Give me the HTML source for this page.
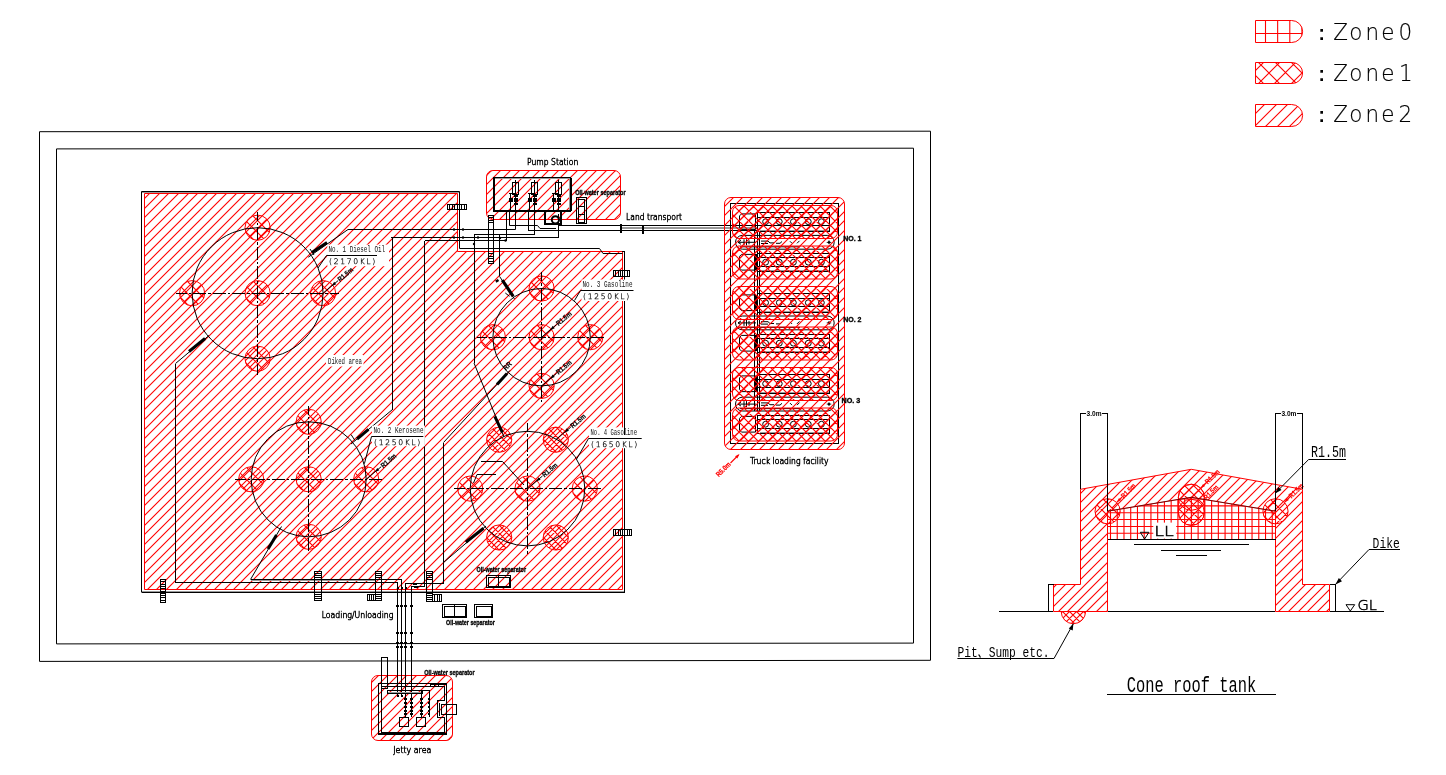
<!DOCTYPE html>
<html lang="en">
<head>
<meta charset="utf-8">
<title>Hazardous area classification - oil terminal layout</title>
<style>
html,body{margin:0;padding:0;background:#fff;width:1446px;height:775px;overflow:hidden}
svg{display:block;position:absolute;left:0;top:0;will-change:transform}
.h{fill:none;stroke:#ff0000}
.ro{fill:none;stroke:#ff0000}
.k{fill:none;stroke:#000;stroke-width:1}
.k2{fill:none;stroke:#000;stroke-width:2}
.kc{fill:none;stroke:#000;stroke-width:1;shape-rendering:crispEdges}
.kc2{fill:none;stroke:#000;stroke-width:2;shape-rendering:crispEdges}
.g{fill:none;stroke:#999;stroke-width:1;shape-rendering:crispEdges}
.cl{fill:none;stroke:#000;stroke-width:1;stroke-dasharray:13 2 2.5 2;shape-rendering:crispEdges}
.f{fill:#000;stroke:none}
.w{fill:#fff;stroke:none}
text{white-space:pre}
.cad{font-family:"DejaVu Sans Light","Liberation Sans",sans-serif;font-size:9px;fill:#000;stroke:#000;stroke-width:.55}
.zone{font-family:"DejaVu Sans Light","Liberation Sans",sans-serif;font-size:22.6px;fill:#000;stroke:#000;stroke-width:.2}
.zone2{font-family:"DejaVu Sans Light","Liberation Sans",sans-serif;font-size:14.2px;fill:#000;stroke:#000;stroke-width:.5}
.tiny{font-family:"Liberation Sans",sans-serif;font-weight:700;font-size:7px;fill:#000;stroke:#000;stroke-width:.3}
.dim{font-family:"Liberation Sans",sans-serif;font-weight:700;font-size:6.5px;fill:#000}
.mono{font-family:"Liberation Mono","IPAGothic",monospace}
.lab{font-family:"Liberation Mono","IPAGothic",monospace;fill:#111;font-size:9.5px}
.lab2{font-family:"DejaVu Sans Light","Liberation Sans",sans-serif;fill:#111;font-size:7.6px;stroke:#111;stroke-width:.25}
.rt{font-family:"Liberation Sans",sans-serif;font-weight:700;font-size:7px;fill:#000;stroke:#000;stroke-width:.2}
.rr{font-family:"Liberation Sans",sans-serif;font-weight:700;font-size:7px;fill:#ff0000;stroke:#f00;stroke-width:.2}
.colon{font-family:"Liberation Sans",sans-serif;font-weight:700;font-size:20px;fill:#000;stroke:none}

</style>
</head>
<body>
<svg width="1446" height="775" viewBox="0 0 1446 775" role="img" aria-label="Hazardous area classification drawing"><defs><clipPath id="c1"><polygon points="144.50,193.50 457.50,193.50 457.50,251.50 622.50,251.50 622.50,589.50 144.50,589.50"/></clipPath><clipPath id="c2"><circle cx="257.60" cy="293.20" r="12.60"/></clipPath><clipPath id="c3"><circle cx="323.10" cy="293.20" r="12.60"/></clipPath><clipPath id="c4"><circle cx="257.60" cy="227.70" r="12.60"/></clipPath><clipPath id="c5"><circle cx="192.10" cy="293.20" r="12.60"/></clipPath><clipPath id="c6"><circle cx="257.60" cy="358.70" r="12.60"/></clipPath><clipPath id="c7"><circle cx="308.70" cy="479.30" r="12.60"/></clipPath><clipPath id="c8"><circle cx="366.20" cy="479.30" r="12.60"/></clipPath><clipPath id="c9"><circle cx="308.70" cy="421.80" r="12.60"/></clipPath><clipPath id="c10"><circle cx="251.20" cy="479.30" r="12.60"/></clipPath><clipPath id="c11"><circle cx="308.70" cy="536.80" r="12.60"/></clipPath><clipPath id="c12"><circle cx="541.60" cy="337.20" r="12.60"/></clipPath><clipPath id="c13"><circle cx="590.30" cy="337.20" r="12.60"/></clipPath><clipPath id="c14"><circle cx="541.60" cy="288.50" r="12.60"/></clipPath><clipPath id="c15"><circle cx="492.90" cy="337.20" r="12.60"/></clipPath><clipPath id="c16"><circle cx="541.60" cy="385.90" r="12.60"/></clipPath><clipPath id="c17"><circle cx="527.50" cy="488.60" r="12.60"/></clipPath><clipPath id="c18"><circle cx="584.80" cy="488.60" r="12.60"/></clipPath><clipPath id="c19"><circle cx="470.20" cy="488.60" r="12.60"/></clipPath><clipPath id="c20"><circle cx="499.20" cy="439.70" r="12.60"/></clipPath><clipPath id="c21"><circle cx="499.20" cy="537.50" r="12.60"/></clipPath><clipPath id="c22"><circle cx="555.80" cy="439.70" r="12.60"/></clipPath><clipPath id="c23"><circle cx="555.80" cy="537.50" r="12.60"/></clipPath><clipPath id="c24"><rect x="486.50" y="170.50" width="134.00" height="49.00" rx="6.5" ry="6.5"/></clipPath><clipPath id="c25"><rect x="724.50" y="197.50" width="120.00" height="252.00" rx="6.5" ry="6.5"/></clipPath><clipPath id="c26"><rect x="732.50" y="205.50" width="105.00" height="33.00" rx="6.5" ry="6.5"/></clipPath><clipPath id="c27"><rect x="732.50" y="246.00" width="105.00" height="33.00" rx="6.5" ry="6.5"/></clipPath><clipPath id="c28"><rect x="732.50" y="286.50" width="105.00" height="33.00" rx="6.5" ry="6.5"/></clipPath><clipPath id="c29"><rect x="732.50" y="327.00" width="105.00" height="33.00" rx="6.5" ry="6.5"/></clipPath><clipPath id="c30"><rect x="732.50" y="367.50" width="105.00" height="33.00" rx="6.5" ry="6.5"/></clipPath><clipPath id="c31"><rect x="732.50" y="408.00" width="105.00" height="33.00" rx="6.5" ry="6.5"/></clipPath><clipPath id="c32"><rect x="371.50" y="675.50" width="81.00" height="65.00" rx="6.5" ry="6.5"/></clipPath><clipPath id="c33"><polygon points="1053.50,584.50 1080.50,584.50 1080.50,489.30 1191.30,469.30 1302.50,489.30 1302.50,584.50 1329.50,584.50 1329.50,611.50 1275.50,611.50 1275.50,511.20 1191.30,497.30 1107.50,511.20 1107.50,611.50 1053.50,611.50"/></clipPath><clipPath id="c34"><polygon points="1107.50,511.20 1191.30,497.30 1275.50,511.20 1275.50,539.50 1107.50,539.50"/></clipPath><clipPath id="c35"><circle cx="1107.60" cy="511.30" r="12.60"/></clipPath><clipPath id="c36"><circle cx="1275.50" cy="511.30" r="12.60"/></clipPath><clipPath id="c37"><rect x="1178.40" y="484.20" width="26.00" height="41.20" rx="13" ry="13"/></clipPath><clipPath id="c38"><path d="M1061.2 611.5A12.2 12.2 0 0 0 1085.6 611.5Z"/></clipPath><clipPath id="c39"><path d="M1255.5 20.5H1291.6A11.0 11.0 0 0 1 1291.6 42.5H1255.5Z"/></clipPath><clipPath id="c40"><path d="M1255.5 62.5H1292.1A10.5 10.5 0 0 1 1292.1 83.5H1255.5Z"/></clipPath><clipPath id="c41"><path d="M1255.5 104.5H1291.6A11.0 11.0 0 0 1 1291.6 126.5H1255.5Z"/></clipPath></defs><rect class="w" x="0" y="0" width="1446" height="775"/>
<g id="frame">
<path class="k" d="M39.5 131.7L930.5 131.2V660.3L39.5 661.4Z"/>
<path class="k" d="M56.5 148.9L913.5 148.2V643.1L56.5 643.9Z"/>
</g>
<g id="dike-zone2">
<path clip-path="url(#c1)" d="M-248.00 591.00L151.00 192.00M-238.00 591.00L161.00 192.00M-229.00 591.00L170.00 192.00M-219.00 591.00L180.00 192.00M-209.00 591.00L190.00 192.00M-200.00 591.00L199.00 192.00M-190.00 591.00L209.00 192.00M-181.00 591.00L218.00 192.00M-171.00 591.00L228.00 192.00M-161.00 591.00L238.00 192.00M-152.00 591.00L247.00 192.00M-142.00 591.00L257.00 192.00M-133.00 591.00L266.00 192.00M-123.00 591.00L276.00 192.00M-113.00 591.00L286.00 192.00M-104.00 591.00L295.00 192.00M-94.00 591.00L305.00 192.00M-85.00 591.00L314.00 192.00M-75.00 591.00L324.00 192.00M-65.00 591.00L334.00 192.00M-56.00 591.00L343.00 192.00M-46.00 591.00L353.00 192.00M-37.00 591.00L362.00 192.00M-27.00 591.00L372.00 192.00M-17.00 591.00L382.00 192.00M-8.00 591.00L391.00 192.00M2.00 591.00L401.00 192.00M11.00 591.00L410.00 192.00M21.00 591.00L420.00 192.00M31.00 591.00L430.00 192.00M40.00 591.00L439.00 192.00M50.00 591.00L449.00 192.00M59.00 591.00L458.00 192.00M69.00 591.00L468.00 192.00M79.00 591.00L478.00 192.00M88.00 591.00L487.00 192.00M98.00 591.00L497.00 192.00M107.00 591.00L506.00 192.00M117.00 591.00L516.00 192.00M127.00 591.00L526.00 192.00M136.00 591.00L535.00 192.00M146.00 591.00L545.00 192.00M155.00 591.00L554.00 192.00M165.00 591.00L564.00 192.00M175.00 591.00L574.00 192.00M184.00 591.00L583.00 192.00M194.00 591.00L593.00 192.00M203.00 591.00L602.00 192.00M213.00 591.00L612.00 192.00M223.00 591.00L622.00 192.00M232.00 591.00L631.00 192.00M242.00 591.00L641.00 192.00M251.00 591.00L650.00 192.00M261.00 591.00L660.00 192.00M271.00 591.00L670.00 192.00M280.00 591.00L679.00 192.00M290.00 591.00L689.00 192.00M299.00 591.00L698.00 192.00M309.00 591.00L708.00 192.00M319.00 591.00L718.00 192.00M328.00 591.00L727.00 192.00M338.00 591.00L737.00 192.00M347.00 591.00L746.00 192.00M357.00 591.00L756.00 192.00M367.00 591.00L766.00 192.00M376.00 591.00L775.00 192.00M386.00 591.00L785.00 192.00M395.00 591.00L794.00 192.00M405.00 591.00L804.00 192.00M415.00 591.00L814.00 192.00M424.00 591.00L823.00 192.00M434.00 591.00L833.00 192.00M443.00 591.00L842.00 192.00M453.00 591.00L852.00 192.00M463.00 591.00L862.00 192.00M472.00 591.00L871.00 192.00M482.00 591.00L881.00 192.00M491.00 591.00L890.00 192.00M501.00 591.00L900.00 192.00M511.00 591.00L910.00 192.00M520.00 591.00L919.00 192.00M530.00 591.00L929.00 192.00M539.00 591.00L938.00 192.00M549.00 591.00L948.00 192.00M559.00 591.00L958.00 192.00M568.00 591.00L967.00 192.00M578.00 591.00L977.00 192.00M587.00 591.00L986.00 192.00M597.00 591.00L996.00 192.00M607.00 591.00L1006.00 192.00M616.00 591.00L1015.00 192.00" class="h" stroke-width="1.1"/>
<polygon class="ro" stroke-width="1.0" points="144.50,193.50 457.50,193.50 457.50,251.50 622.50,251.50 622.50,589.50 144.50,589.50"/>
</g>
<g id="t1">
<path clip-path="url(#c2)" d="M226.60 278.60L255.80 307.80M238.60 278.60L267.80 307.80M250.60 278.60L279.80 307.80M261.60 278.60L290.80 307.80M220.20 307.80L249.40 278.60M232.20 307.80L261.40 278.60M244.20 307.80L273.40 278.60M256.20 307.80L285.40 278.60M267.20 307.80L296.40 278.60" class="h" stroke-width="1.1"/>
<circle class="ro" stroke-width="1.0" cx="257.60" cy="293.20" r="12.60"/>
<path clip-path="url(#c3)" d="M292.60 278.60L321.80 307.80M303.60 278.60L332.80 307.80M315.60 278.60L344.80 307.80M327.60 278.60L356.80 307.80M286.20 307.80L315.40 278.60M298.20 307.80L327.40 278.60M309.20 307.80L338.40 278.60M321.20 307.80L350.40 278.60M333.20 307.80L362.40 278.60" class="h" stroke-width="1.1"/>
<circle class="ro" stroke-width="1.0" cx="323.10" cy="293.20" r="12.60"/>
<path clip-path="url(#c4)" d="M227.10 213.10L256.30 242.30M238.10 213.10L267.30 242.30M250.10 213.10L279.30 242.30M262.10 213.10L291.30 242.30M220.70 242.30L249.90 213.10M232.70 242.30L261.90 213.10M243.70 242.30L272.90 213.10M255.70 242.30L284.90 213.10M267.70 242.30L296.90 213.10" class="h" stroke-width="1.1"/>
<circle class="ro" stroke-width="1.0" cx="257.60" cy="227.70" r="12.60"/>
<path clip-path="url(#c5)" d="M161.60 278.60L190.80 307.80M172.60 278.60L201.80 307.80M184.60 278.60L213.80 307.80M196.60 278.60L225.80 307.80M155.20 307.80L184.40 278.60M167.20 307.80L196.40 278.60M178.20 307.80L207.40 278.60M190.20 307.80L219.40 278.60M202.20 307.80L231.40 278.60" class="h" stroke-width="1.1"/>
<circle class="ro" stroke-width="1.0" cx="192.10" cy="293.20" r="12.60"/>
<path clip-path="url(#c6)" d="M227.10 344.10L256.30 373.30M238.10 344.10L267.30 373.30M250.10 344.10L279.30 373.30M262.10 344.10L291.30 373.30M220.70 373.30L249.90 344.10M232.70 373.30L261.90 344.10M243.70 373.30L272.90 344.10M255.70 373.30L284.90 344.10M267.70 373.30L296.90 344.10" class="h" stroke-width="1.1"/>
<circle class="ro" stroke-width="1.0" cx="257.60" cy="358.70" r="12.60"/>
<circle class="k" cx="257.6" cy="293.2" r="65.5"/>
<path class="cl" stroke-dashoffset="2.5" d="M176.0 293.5H339.2"/>
<path class="cl" stroke-dashoffset="4" d="M257.5 211.6V374.8"/>
</g>
<g id="t2">
<path clip-path="url(#c7)" d="M277.70 464.70L306.90 493.90M289.70 464.70L318.90 493.90M301.70 464.70L330.90 493.90M312.70 464.70L341.90 493.90M272.10 493.90L301.30 464.70M283.10 493.90L312.30 464.70M295.10 493.90L324.30 464.70M307.10 493.90L336.30 464.70M318.10 493.90L347.30 464.70" class="h" stroke-width="1.1"/>
<circle class="ro" stroke-width="1.0" cx="308.70" cy="479.30" r="12.60"/>
<path clip-path="url(#c8)" d="M335.70 464.70L364.90 493.90M346.70 464.70L375.90 493.90M358.70 464.70L387.90 493.90M370.70 464.70L399.90 493.90M329.10 493.90L358.30 464.70M341.10 493.90L370.30 464.70M352.10 493.90L381.30 464.70M364.10 493.90L393.30 464.70M376.10 493.90L405.30 464.70" class="h" stroke-width="1.1"/>
<circle class="ro" stroke-width="1.0" cx="366.20" cy="479.30" r="12.60"/>
<path clip-path="url(#c9)" d="M278.20 407.20L307.40 436.40M289.20 407.20L318.40 436.40M301.20 407.20L330.40 436.40M313.20 407.20L342.40 436.40M271.60 436.40L300.80 407.20M283.60 436.40L312.80 407.20M295.60 436.40L324.80 407.20M306.60 436.40L335.80 407.20M318.60 436.40L347.80 407.20" class="h" stroke-width="1.1"/>
<circle class="ro" stroke-width="1.0" cx="308.70" cy="421.80" r="12.60"/>
<path clip-path="url(#c10)" d="M220.70 464.70L249.90 493.90M231.70 464.70L260.90 493.90M243.70 464.70L272.90 493.90M255.70 464.70L284.90 493.90M214.10 493.90L243.30 464.70M226.10 493.90L255.30 464.70M238.10 493.90L267.30 464.70M249.10 493.90L278.30 464.70M261.10 493.90L290.30 464.70" class="h" stroke-width="1.1"/>
<circle class="ro" stroke-width="1.0" cx="251.20" cy="479.30" r="12.60"/>
<path clip-path="url(#c11)" d="M278.20 522.20L307.40 551.40M289.20 522.20L318.40 551.40M301.20 522.20L330.40 551.40M313.20 522.20L342.40 551.40M271.60 551.40L300.80 522.20M283.60 551.40L312.80 522.20M294.60 551.40L323.80 522.20M306.60 551.40L335.80 522.20M318.60 551.40L347.80 522.20" class="h" stroke-width="1.1"/>
<circle class="ro" stroke-width="1.0" cx="308.70" cy="536.80" r="12.60"/>
<circle class="k" cx="308.7" cy="479.3" r="57.5"/>
<path class="cl" stroke-dashoffset="2.5" d="M235.1 479.5H382.3"/>
<path class="cl" stroke-dashoffset="4" d="M308.5 405.7V552.9"/>
</g>
<g id="t3">
<path clip-path="url(#c12)" d="M510.60 322.60L539.80 351.80M522.60 322.60L551.80 351.80M534.60 322.60L563.80 351.80M545.60 322.60L574.80 351.80M504.20 351.80L533.40 322.60M516.20 351.80L545.40 322.60M528.20 351.80L557.40 322.60M540.20 351.80L569.40 322.60M551.20 351.80L580.40 322.60" class="h" stroke-width="1.1"/>
<circle class="ro" stroke-width="1.0" cx="541.60" cy="337.20" r="12.60"/>
<path clip-path="url(#c13)" d="M559.60 322.60L588.80 351.80M571.60 322.60L600.80 351.80M582.60 322.60L611.80 351.80M594.60 322.60L623.80 351.80M553.20 351.80L582.40 322.60M565.20 351.80L594.40 322.60M576.20 351.80L605.40 322.60M588.20 351.80L617.40 322.60M600.20 351.80L629.40 322.60" class="h" stroke-width="1.1"/>
<circle class="ro" stroke-width="1.0" cx="590.30" cy="337.20" r="12.60"/>
<path clip-path="url(#c14)" d="M510.90 273.90L540.10 303.10M522.90 273.90L552.10 303.10M533.90 273.90L563.10 303.10M545.90 273.90L575.10 303.10M504.90 303.10L534.10 273.90M515.90 303.10L545.10 273.90M527.90 303.10L557.10 273.90M539.90 303.10L569.10 273.90M550.90 303.10L580.10 273.90" class="h" stroke-width="1.1"/>
<circle class="ro" stroke-width="1.0" cx="541.60" cy="288.50" r="12.60"/>
<path clip-path="url(#c15)" d="M462.60 322.60L491.80 351.80M473.60 322.60L502.80 351.80M485.60 322.60L514.80 351.80M497.60 322.60L526.80 351.80M456.20 351.80L485.40 322.60M467.20 351.80L496.40 322.60M479.20 351.80L508.40 322.60M491.20 351.80L520.40 322.60M502.20 351.80L531.40 322.60" class="h" stroke-width="1.1"/>
<circle class="ro" stroke-width="1.0" cx="492.90" cy="337.20" r="12.60"/>
<path clip-path="url(#c16)" d="M511.30 371.30L540.50 400.50M522.30 371.30L551.50 400.50M534.30 371.30L563.50 400.50M546.30 371.30L575.50 400.50M504.50 400.50L533.70 371.30M516.50 400.50L545.70 371.30M527.50 400.50L556.70 371.30M539.50 400.50L568.70 371.30M551.50 400.50L580.70 371.30" class="h" stroke-width="1.1"/>
<circle class="ro" stroke-width="1.0" cx="541.60" cy="385.90" r="12.60"/>
<circle class="k" cx="541.6" cy="337.2" r="48.7"/>
<path class="cl" stroke-dashoffset="2.5" d="M476.8 337.5H606.4"/>
<path class="cl" stroke-dashoffset="4" d="M541.5 272.4V402.0"/>
</g>
<g id="t4">
<path clip-path="url(#c17)" d="M497.00 474.00L526.20 503.20M508.00 474.00L537.20 503.20M520.00 474.00L549.20 503.20M532.00 474.00L561.20 503.20M490.80 503.20L520.00 474.00M501.80 503.20L531.00 474.00M513.80 503.20L543.00 474.00M525.80 503.20L555.00 474.00M536.80 503.20L566.00 474.00" class="h" stroke-width="1.1"/>
<circle class="ro" stroke-width="1.0" cx="527.50" cy="488.60" r="12.60"/>
<path clip-path="url(#c18)" d="M554.00 474.00L583.20 503.20M566.00 474.00L595.20 503.20M577.00 474.00L606.20 503.20M589.00 474.00L618.20 503.20M547.80 503.20L577.00 474.00M559.80 503.20L589.00 474.00M570.80 503.20L600.00 474.00M582.80 503.20L612.00 474.00M594.80 503.20L624.00 474.00" class="h" stroke-width="1.1"/>
<circle class="ro" stroke-width="1.0" cx="584.80" cy="488.60" r="12.60"/>
<path clip-path="url(#c19)" d="M439.00 474.00L468.20 503.20M451.00 474.00L480.20 503.20M463.00 474.00L492.20 503.20M474.00 474.00L503.20 503.20M432.80 503.20L462.00 474.00M444.80 503.20L474.00 474.00M456.80 503.20L486.00 474.00M468.80 503.20L498.00 474.00M479.80 503.20L509.00 474.00" class="h" stroke-width="1.1"/>
<circle class="ro" stroke-width="1.0" cx="470.20" cy="488.60" r="12.60"/>
<path clip-path="url(#c20)" d="M464.10 425.10L493.30 454.30M472.10 425.10L501.30 454.30M480.10 425.10L509.30 454.30M489.10 425.10L518.30 454.30M497.10 425.10L526.30 454.30M505.10 425.10L534.30 454.30M459.70 454.30L488.90 425.10M469.70 454.30L498.90 425.10M479.70 454.30L508.90 425.10M488.70 454.30L517.90 425.10M498.70 454.30L527.90 425.10M507.70 454.30L536.90 425.10" class="h" stroke-width="1.1"/>
<circle class="ro" stroke-width="1.0" cx="499.20" cy="439.70" r="12.60"/>
<path clip-path="url(#c21)" d="M463.90 522.90L493.10 552.10M471.90 522.90L501.10 552.10M480.90 522.90L510.10 552.10M488.90 522.90L518.10 552.10M496.90 522.90L526.10 552.10M505.90 522.90L535.10 552.10M457.90 552.10L487.10 522.90M467.90 552.10L497.10 522.90M477.90 552.10L507.10 522.90M486.90 552.10L516.10 522.90M496.90 552.10L526.10 522.90M505.90 552.10L535.10 522.90" class="h" stroke-width="1.1"/>
<circle class="ro" stroke-width="1.0" cx="499.20" cy="537.50" r="12.60"/>
<path clip-path="url(#c22)" d="M520.10 425.10L549.30 454.30M529.10 425.10L558.30 454.30M537.10 425.10L566.30 454.30M545.10 425.10L574.30 454.30M554.10 425.10L583.30 454.30M562.10 425.10L591.30 454.30M517.70 454.30L546.90 425.10M527.70 454.30L556.90 425.10M536.70 454.30L565.90 425.10M546.70 454.30L575.90 425.10M555.70 454.30L584.90 425.10M565.70 454.30L594.90 425.10" class="h" stroke-width="1.1"/>
<circle class="ro" stroke-width="1.0" cx="555.80" cy="439.70" r="12.60"/>
<path clip-path="url(#c23)" d="M520.90 522.90L550.10 552.10M528.90 522.90L558.10 552.10M536.90 522.90L566.10 552.10M545.90 522.90L575.10 552.10M553.90 522.90L583.10 552.10M561.90 522.90L591.10 552.10M515.90 552.10L545.10 522.90M525.90 552.10L555.10 522.90M534.90 552.10L564.10 522.90M544.90 552.10L574.10 522.90M553.90 552.10L583.10 522.90M563.90 552.10L593.10 522.90" class="h" stroke-width="1.1"/>
<circle class="ro" stroke-width="1.0" cx="555.80" cy="537.50" r="12.60"/>
<circle class="k" cx="527.5" cy="488.6" r="57.3"/>
<path class="cl" stroke-dashoffset="2.5" d="M454.1 488.5H600.9"/>
<path class="cl" stroke-dashoffset="4" d="M527.5 423.3V553.9"/>
</g>
<g id="dike-wall">
<path class="k" d="M141.5 592.5V191.5H459.5V248.5H599.5L603 253.5H622.5"/>
<path class="kc" d="M622 251.5H624.5V592.5H141.5"/>
<path class="g" d="M142 192.5H459"/>
<path class="g" d="M142 591.5H624"/>
</g>
<g id="pump-station">
<path clip-path="url(#c24)" d="M440.00 222.00L494.00 168.00M449.00 222.00L503.00 168.00M459.00 222.00L513.00 168.00M468.00 222.00L522.00 168.00M478.00 222.00L532.00 168.00M488.00 222.00L542.00 168.00M497.00 222.00L551.00 168.00M507.00 222.00L561.00 168.00M516.00 222.00L570.00 168.00M526.00 222.00L580.00 168.00M536.00 222.00L590.00 168.00M545.00 222.00L599.00 168.00M555.00 222.00L609.00 168.00M564.00 222.00L618.00 168.00M574.00 222.00L628.00 168.00M584.00 222.00L638.00 168.00M593.00 222.00L647.00 168.00M603.00 222.00L657.00 168.00M612.00 222.00L666.00 168.00" class="h" stroke-width="1.1"/>
<rect class="ro" stroke-width="1.0" x="486.50" y="170.50" width="134.00" height="49.00" rx="6.5" ry="6.5"/>
<rect class="kc" x="493.50" y="177.50" width="77.00" height="34.00"/>
<rect class="g" x="494.50" y="178.50" width="75.00" height="32.00"/>
<path class="kc" d="M494.5 178V211M494 210.5H570M571.5 178V211"/>
<rect class="kc" x="512.50" y="182.50" width="6.00" height="11.50"/>
<path class="kc" d="M515.5 180V212M510.5 193.5V212M508.5 193.5H515.5"/>
<path class="kc2" d="M513.5 196H517.5M513.5 198.5H517.5M513.5 201H517.5M513.5 204H517.5M508.5 199H512.5M508.5 201H512.5"/>
<rect class="kc" x="531.60" y="182.50" width="6.00" height="11.50"/>
<path class="kc" d="M534.6 180V212M529.6 193.5V212M527.6 193.5H534.6"/>
<path class="kc2" d="M532.6 196H536.6M532.6 198.5H536.6M532.6 201H536.6M532.6 204H536.6M527.6 199H531.6M527.6 201H531.6"/>
<rect class="kc" x="555.50" y="182.50" width="6.00" height="11.50"/>
<path class="kc" d="M558.5 180V212M553.5 193.5V212M551.5 193.5H558.5"/>
<path class="kc2" d="M556.5 196H560.5M556.5 198.5H560.5M556.5 201H560.5M556.5 204H560.5M551.5 199H555.5M551.5 201H555.5"/>
<path class="kc2" d="M544.5 212V224H560.5V212"/>
<circle class="k2" cx="555.4" cy="219.8" r="3.6"/>
<rect class="kc" x="576.50" y="197.50" width="10.30" height="26.00"/>
<rect class="kc" x="578.00" y="199.00" width="6.50" height="23.00"/>
<path class="kc" d="M578 206.5H584.5M578 214.5H584.5"/>
</g>
<g id="pipes">
<path class="k" d="M308.3 257.2L348 229.5H515.5V212"/>
<path class="k" d="M312 252.6L327 242.6" style="stroke-width:3"/>
<path class="k" d="M310 249l4 6"/>
<path class="kc" d="M390.5 237.5H558.5V214"/>
<path class="kc" d="M392.5 237.5V409.5"/>
<path class="k" d="M392.5 409.5L351 444"/>
<path class="k" d="M357 439L368.5 429.4" style="stroke-width:3"/>
<path class="k" d="M351 434.5L355 440.5"/>
<path class="kc" d="M424.5 240.5H506V212"/>
<path class="kc" d="M424.5 240.5V586.5H411.5"/>
<path class="kc" d="M474 234.7H534.8V212"/>
<path class="kc" d="M474 234.7V363"/>
<path class="k" d="M474 363L504 437"/>
<path class="k" d="M494.8 416.4L502.3 432.3" style="stroke-width:3"/>
<path class="kc" d="M499.5 234.7V276.3"/>
<path class="k" d="M499.5 276.3L514.5 299"/>
<path class="k" d="M502.3 280.2L513.2 296.3" style="stroke-width:3.2"/>
<path class="k" d="M495.8 281.6L498.5 280" style="stroke-width:2.4"/>
<path class="k" d="M505.3 293L509.5 296.3"/>
<path class="k" d="M443.5 442.5L509.8 370.5"/>
<path class="k" d="M497 384.5L507 373.5" style="stroke-width:3"/>
<path class="kc" d="M443.5 442.5V583.5H405.5"/>
<path class="k" d="M443.5 562.5L486 526"/>
<path class="k" d="M465.8 542.3L483.6 528.3" style="stroke-width:3"/>
<path class="k" d="M481 461.5H502.5L524 485M473.5 483L477 474.5H496"/>
<path class="kc" d="M175.5 363.5V582.5H398"/>
<path class="k" d="M175.5 363.5L209 335.5"/>
<path class="k" d="M189 351.5L205 338.5" style="stroke-width:3"/>
<path class="kc" d="M250.5 579.5H384"/>
<path class="g" d="M251 580.3H376"/>
<path class="k" d="M250.5 579.5L281.5 526.5"/>
<path class="k" d="M268 549L276.5 535" style="stroke-width:3"/>
<path class="k" d="M509.5 212V225.5H537.5L540 228.5H556"/>
<path class="kc" d="M528.6 212V230.5H757"/>
<path class="g" d="M621 227.5H757M621 228.5H757"/>
<path class="kc" d="M558.5 225.5H757"/>
<path class="kc2" d="M621 223.5V233M642.7 224.5V234"/>
<circle class="f" cx="454" cy="229.5" r="1.2"/>
<circle class="f" cx="463" cy="229.5" r="1.2"/>
<circle class="f" cx="454" cy="237.5" r="1.2"/>
<circle class="f" cx="463" cy="237.5" r="1.2"/>
<circle class="f" cx="478" cy="237.5" r="1.2"/>
<circle class="f" cx="474" cy="244" r="1.2"/>
<circle class="f" cx="500" cy="238" r="1.2"/>
<circle class="f" cx="505.5" cy="240.5" r="1.2"/>
</g>
<g id="stairs">
<path class="kc" d="M160.5 579.5H165.5V602.5H160.5ZM160.5 581.5H165.5M160.5 584.5H165.5M160.5 586.5H165.5M160.5 588.5H165.5M160.5 591.5H165.5M160.5 593.5H165.5M160.5 595.5H165.5M160.5 597.5H165.5M160.5 600.5H165.5"/>
<path class="kc" d="M314.5 571.5H321.5V579.5H314.5ZM314.5 573.5H321.5M314.5 575.5H321.5M314.5 577.5H321.5"/>
<path class="kc" d="M314.5 579.5H321.5V592.5H314.5Z"/>
<path class="kc" d="M314.5 592.5H321.5V600.5H314.5ZM314.5 594.5H321.5M314.5 596.5H321.5M314.5 598.5H321.5"/>
<path class="kc" d="M375.5 571.5H381.5V579.5H375.5ZM375.5 573.5H381.5M375.5 575.5H381.5M375.5 577.5H381.5"/>
<path class="kc" d="M375.5 579.5H381.5V592.5H375.5Z"/>
<path class="kc" d="M375.5 592.5H381.5V600.5H375.5ZM375.5 594.5H381.5M375.5 596.5H381.5M375.5 598.5H381.5"/>
<path class="kc" d="M367.5 594.5H375.5V600.5H367.5ZM369.5 594.5V600.5M371.5 594.5V600.5M373.5 594.5V600.5"/>
<path class="kc" d="M426.5 571.5H432.5V579.5H426.5ZM426.5 573.5H432.5M426.5 575.5H432.5M426.5 577.5H432.5"/>
<path class="kc" d="M426.5 579.5H432.5V593.5H426.5Z"/>
<path class="kc" d="M426.5 593.5H432.5V601.5H426.5ZM426.5 595.5H432.5M426.5 597.5H432.5M426.5 599.5H432.5"/>
<path class="kc" d="M432.5 594.5H441.5V601.5H432.5ZM434.5 594.5V601.5M437.5 594.5V601.5M439.5 594.5V601.5"/>
<path class="kc" d="M488.5 215.5H493.5V222.5H488.5ZM488.5 217.5H493.5M488.5 220.5H493.5"/>
<path class="kc" d="M488.5 222.5H493.5V253.5H488.5Z"/>
<path class="kc" d="M488.5 253.5H493.5V263.5H488.5ZM488.5 256.5H493.5M488.5 258.5H493.5M488.5 261.5H493.5"/>
<path class="kc" d="M447.5 204.5H466.5V209.5H447.5ZM449.5 204.5V209.5M452.5 204.5V209.5M454.5 204.5V209.5M457.5 204.5V209.5M459.5 204.5V209.5M461.5 204.5V209.5M464.5 204.5V209.5"/>
<path class="kc" d="M613.5 270.5H629.5V276.5H613.5ZM615.5 270.5V276.5M618.5 270.5V276.5M620.5 270.5V276.5M622.5 270.5V276.5M624.5 270.5V276.5M627.5 270.5V276.5"/>
<path class="kc" d="M613.5 529.5H631.5V535.5H613.5ZM615.5 529.5V535.5M618.5 529.5V535.5M620.5 529.5V535.5M622.5 529.5V535.5M624.5 529.5V535.5M627.5 529.5V535.5M629.5 529.5V535.5"/>
</g>
<g id="truck-loading">
<rect class="kc" x="730.50" y="203.50" width="108.00" height="240.00"/>
<path class="kc" d="M754.5 229V411M757.5 213V411M759.5 231V411"/>
<path class="k" d="M741.5 213.9H755.5V229.6H741.5L739.5 227.6V215.9Z"/>
<rect class="kc" x="757.50" y="212.50" width="72.00" height="18.50"/>
<path class="kc" d="M757.5 217.1H829.5M757.5 225.5H829.5"/>
<path class="g" d="M760 230.0H829"/>
<circle class="k" cx="765.6" cy="221.7" r="2.9"/>
<circle class="k" cx="779.3" cy="221.7" r="2.9"/>
<circle class="k" cx="793.4" cy="221.7" r="2.9"/>
<circle class="k" cx="808.3" cy="221.7" r="2.9"/>
<circle class="k" cx="821.4" cy="221.7" r="2.9"/>
<path class="k" d="M741.5 254.4H755.5V270.1H741.5L739.5 268.1V256.4Z"/>
<rect class="kc" x="757.50" y="253.00" width="72.00" height="18.50"/>
<path class="kc" d="M757.5 257.6H829.5M757.5 266.0H829.5"/>
<path class="g" d="M760 270.5H829"/>
<circle class="k" cx="765.6" cy="262.2" r="2.9"/>
<circle class="k" cx="779.3" cy="262.2" r="2.9"/>
<circle class="k" cx="793.4" cy="262.2" r="2.9"/>
<circle class="k" cx="808.3" cy="262.2" r="2.9"/>
<circle class="k" cx="821.4" cy="262.2" r="2.9"/>
<path class="kc2" d="M756 254.2V270.2"/>
<path class="k" d="M741.5 294.9H755.5V310.6H741.5L739.5 308.6V296.9Z"/>
<rect class="kc" x="757.50" y="293.50" width="72.00" height="18.50"/>
<path class="kc" d="M757.5 298.1H829.5M757.5 306.5H829.5"/>
<path class="g" d="M760 311.0H829"/>
<circle class="k" cx="765.6" cy="302.7" r="2.9"/>
<circle class="k" cx="779.3" cy="302.7" r="2.9"/>
<circle class="k" cx="793.4" cy="302.7" r="2.9"/>
<circle class="k" cx="808.3" cy="302.7" r="2.9"/>
<circle class="k" cx="821.4" cy="302.7" r="2.9"/>
<path class="kc2" d="M756 294.7V310.7"/>
<path class="k" d="M741.5 335.4H755.5V351.1H741.5L739.5 349.1V337.4Z"/>
<rect class="kc" x="757.50" y="334.00" width="72.00" height="18.50"/>
<path class="kc" d="M757.5 338.6H829.5M757.5 347.0H829.5"/>
<path class="g" d="M760 351.5H829"/>
<circle class="k" cx="765.6" cy="343.2" r="2.9"/>
<circle class="k" cx="779.3" cy="343.2" r="2.9"/>
<circle class="k" cx="793.4" cy="343.2" r="2.9"/>
<circle class="k" cx="808.3" cy="343.2" r="2.9"/>
<circle class="k" cx="821.4" cy="343.2" r="2.9"/>
<path class="kc2" d="M756 335.2V351.2"/>
<path class="k" d="M741.5 375.9H755.5V391.6H741.5L739.5 389.6V377.9Z"/>
<rect class="kc" x="757.50" y="374.50" width="72.00" height="18.50"/>
<path class="kc" d="M757.5 379.1H829.5M757.5 387.5H829.5"/>
<path class="g" d="M760 392.0H829"/>
<circle class="k" cx="765.6" cy="383.7" r="2.9"/>
<circle class="k" cx="779.3" cy="383.7" r="2.9"/>
<circle class="k" cx="793.4" cy="383.7" r="2.9"/>
<circle class="k" cx="808.3" cy="383.7" r="2.9"/>
<circle class="k" cx="821.4" cy="383.7" r="2.9"/>
<path class="kc2" d="M756 375.7V391.7"/>
<path class="k" d="M741.5 416.4H755.5V432.1H741.5L739.5 430.1V418.4Z"/>
<rect class="kc" x="757.50" y="415.00" width="72.00" height="18.50"/>
<path class="kc" d="M757.5 419.6H829.5M757.5 428.0H829.5"/>
<path class="g" d="M760 432.5H829"/>
<circle class="k" cx="765.6" cy="424.2" r="2.9"/>
<circle class="k" cx="779.3" cy="424.2" r="2.9"/>
<circle class="k" cx="793.4" cy="424.2" r="2.9"/>
<circle class="k" cx="808.3" cy="424.2" r="2.9"/>
<circle class="k" cx="821.4" cy="424.2" r="2.9"/>
<rect class="k" x="735.5" y="235.4" width="98.7" height="13.8" rx="6.9" ry="6.9"/>
<path class="k" d="M738 242.3H756M741 240.3L738 242.3L741 244.3M744 239.3V245.3M746.5 239.3V245.3M749 240.3V244.3M761 241.10000000000002H768L770 242.9H774M761 243.5H768M776 243.3H780L782 241.5M790 241.3L792 243.3M797 243.3L799.5 240.8"/>
<path class="k" d="M740 246.8H800"/>
<path class="f" d="M829 240.10000000000002L830 241.70000000000002L831.8 242.3L830 242.9L829 244.5L828 242.9L826.2 242.3L828 241.70000000000002Z"/>
<rect class="k" x="735.5" y="316.0" width="98.7" height="13.8" rx="6.9" ry="6.9"/>
<path class="k" d="M738 322.9H756M741 320.9L738 322.9L741 324.9M744 319.9V325.9M746.5 319.9V325.9M749 320.9V324.9M761 321.7H768L770 323.5H774M761 324.09999999999997H768M776 323.9H780L782 322.09999999999997M790 321.9L792 323.9M797 323.9L799.5 321.4"/>
<path class="k" d="M740 327.4H800"/>
<path class="f" d="M829 320.7L830 322.29999999999995L831.8 322.9L830 323.5L829 325.09999999999997L828 323.5L826.2 322.9L828 322.29999999999995Z"/>
<rect class="k" x="735.5" y="397.2" width="98.7" height="13.8" rx="6.9" ry="6.9"/>
<path class="k" d="M738 404.1H756M741 402.1L738 404.1L741 406.1M744 401.1V407.1M746.5 401.1V407.1M749 402.1V406.1M761 402.90000000000003H768L770 404.70000000000005H774M761 405.3H768M776 405.1H780L782 403.3M790 403.1L792 405.1M797 405.1L799.5 402.6"/>
<path class="k" d="M740 408.6H800"/>
<path class="f" d="M829 401.90000000000003L830 403.5L831.8 404.1L830 404.70000000000005L829 406.3L828 404.70000000000005L826.2 404.1L828 403.5Z"/>
<path clip-path="url(#c25)" d="M469.00 452.00L725.00 196.00M479.00 452.00L735.00 196.00M488.00 452.00L744.00 196.00M498.00 452.00L754.00 196.00M508.00 452.00L764.00 196.00M517.00 452.00L773.00 196.00M527.00 452.00L783.00 196.00M536.00 452.00L792.00 196.00M546.00 452.00L802.00 196.00M556.00 452.00L812.00 196.00M565.00 452.00L821.00 196.00M575.00 452.00L831.00 196.00M584.00 452.00L840.00 196.00M594.00 452.00L850.00 196.00M604.00 452.00L860.00 196.00M613.00 452.00L869.00 196.00M623.00 452.00L879.00 196.00M632.00 452.00L888.00 196.00M642.00 452.00L898.00 196.00M652.00 452.00L908.00 196.00M661.00 452.00L917.00 196.00M671.00 452.00L927.00 196.00M680.00 452.00L936.00 196.00M690.00 452.00L946.00 196.00M700.00 452.00L956.00 196.00M709.00 452.00L965.00 196.00M719.00 452.00L975.00 196.00M728.00 452.00L984.00 196.00M738.00 452.00L994.00 196.00M748.00 452.00L1004.00 196.00M757.00 452.00L1013.00 196.00M767.00 452.00L1023.00 196.00M776.00 452.00L1032.00 196.00M786.00 452.00L1042.00 196.00M796.00 452.00L1052.00 196.00M805.00 452.00L1061.00 196.00M815.00 452.00L1071.00 196.00M824.00 452.00L1080.00 196.00M834.00 452.00L1090.00 196.00M844.00 452.00L1100.00 196.00" class="h" stroke-width="1.1"/>
<rect class="ro" stroke-width="1.0" x="724.50" y="197.50" width="120.00" height="252.00" rx="6.5" ry="6.5"/>
<path clip-path="url(#c26)" d="M700.50 240.50L737.50 203.50M709.50 240.50L746.50 203.50M719.50 240.50L756.50 203.50M729.50 240.50L766.50 203.50M738.50 240.50L775.50 203.50M748.50 240.50L785.50 203.50M757.50 240.50L794.50 203.50M767.50 240.50L804.50 203.50M777.50 240.50L814.50 203.50M786.50 240.50L823.50 203.50M796.50 240.50L833.50 203.50M805.50 240.50L842.50 203.50M815.50 240.50L852.50 203.50M825.50 240.50L862.50 203.50M834.50 240.50L871.50 203.50M702.50 203.50L739.50 240.50M712.50 203.50L749.50 240.50M721.50 203.50L758.50 240.50M731.50 203.50L768.50 240.50M741.50 203.50L778.50 240.50M750.50 203.50L787.50 240.50M760.50 203.50L797.50 240.50M769.50 203.50L806.50 240.50M779.50 203.50L816.50 240.50M789.50 203.50L826.50 240.50M798.50 203.50L835.50 240.50M808.50 203.50L845.50 240.50M817.50 203.50L854.50 240.50M827.50 203.50L864.50 240.50M837.50 203.50L874.50 240.50" class="h" stroke-width="1.1"/>
<rect class="ro" stroke-width="1.0" x="732.50" y="205.50" width="105.00" height="33.00" rx="6.5" ry="6.5"/>
<path clip-path="url(#c27)" d="M698.00 281.00L735.00 244.00M708.00 281.00L745.00 244.00M717.00 281.00L754.00 244.00M727.00 281.00L764.00 244.00M737.00 281.00L774.00 244.00M746.00 281.00L783.00 244.00M756.00 281.00L793.00 244.00M765.00 281.00L802.00 244.00M775.00 281.00L812.00 244.00M785.00 281.00L822.00 244.00M794.00 281.00L831.00 244.00M804.00 281.00L841.00 244.00M813.00 281.00L850.00 244.00M823.00 281.00L860.00 244.00M833.00 281.00L870.00 244.00M705.00 244.00L742.00 281.00M714.00 244.00L751.00 281.00M724.00 244.00L761.00 281.00M734.00 244.00L771.00 281.00M743.00 244.00L780.00 281.00M753.00 244.00L790.00 281.00M762.00 244.00L799.00 281.00M772.00 244.00L809.00 281.00M782.00 244.00L819.00 281.00M791.00 244.00L828.00 281.00M801.00 244.00L838.00 281.00M810.00 244.00L847.00 281.00M820.00 244.00L857.00 281.00M830.00 244.00L867.00 281.00" class="h" stroke-width="1.1"/>
<rect class="ro" stroke-width="1.0" x="732.50" y="246.00" width="105.00" height="33.00" rx="6.5" ry="6.5"/>
<path clip-path="url(#c28)" d="M696.50 321.50L733.50 284.50M705.50 321.50L742.50 284.50M715.50 321.50L752.50 284.50M724.50 321.50L761.50 284.50M734.50 321.50L771.50 284.50M744.50 321.50L781.50 284.50M753.50 321.50L790.50 284.50M763.50 321.50L800.50 284.50M772.50 321.50L809.50 284.50M782.50 321.50L819.50 284.50M792.50 321.50L829.50 284.50M801.50 321.50L838.50 284.50M811.50 321.50L848.50 284.50M820.50 321.50L857.50 284.50M830.50 321.50L867.50 284.50M697.50 284.50L734.50 321.50M706.50 284.50L743.50 321.50M716.50 284.50L753.50 321.50M726.50 284.50L763.50 321.50M735.50 284.50L772.50 321.50M745.50 284.50L782.50 321.50M754.50 284.50L791.50 321.50M764.50 284.50L801.50 321.50M774.50 284.50L811.50 321.50M783.50 284.50L820.50 321.50M793.50 284.50L830.50 321.50M802.50 284.50L839.50 321.50M812.50 284.50L849.50 321.50M822.50 284.50L859.50 321.50M831.50 284.50L868.50 321.50" class="h" stroke-width="1.1"/>
<rect class="ro" stroke-width="1.0" x="732.50" y="286.50" width="105.00" height="33.00" rx="6.5" ry="6.5"/>
<path clip-path="url(#c29)" d="M704.00 362.00L741.00 325.00M713.00 362.00L750.00 325.00M723.00 362.00L760.00 325.00M732.00 362.00L769.00 325.00M742.00 362.00L779.00 325.00M752.00 362.00L789.00 325.00M761.00 362.00L798.00 325.00M771.00 362.00L808.00 325.00M780.00 362.00L817.00 325.00M790.00 362.00L827.00 325.00M800.00 362.00L837.00 325.00M809.00 362.00L846.00 325.00M819.00 362.00L856.00 325.00M828.00 362.00L865.00 325.00M838.00 362.00L875.00 325.00M699.00 325.00L736.00 362.00M709.00 325.00L746.00 362.00M719.00 325.00L756.00 362.00M728.00 325.00L765.00 362.00M738.00 325.00L775.00 362.00M747.00 325.00L784.00 362.00M757.00 325.00L794.00 362.00M767.00 325.00L804.00 362.00M776.00 325.00L813.00 362.00M786.00 325.00L823.00 362.00M795.00 325.00L832.00 362.00M805.00 325.00L842.00 362.00M815.00 325.00L852.00 362.00M824.00 325.00L861.00 362.00M834.00 325.00L871.00 362.00" class="h" stroke-width="1.1"/>
<rect class="ro" stroke-width="1.0" x="732.50" y="327.00" width="105.00" height="33.00" rx="6.5" ry="6.5"/>
<path clip-path="url(#c30)" d="M701.50 402.50L738.50 365.50M711.50 402.50L748.50 365.50M720.50 402.50L757.50 365.50M730.50 402.50L767.50 365.50M739.50 402.50L776.50 365.50M749.50 402.50L786.50 365.50M759.50 402.50L796.50 365.50M768.50 402.50L805.50 365.50M778.50 402.50L815.50 365.50M787.50 402.50L824.50 365.50M797.50 402.50L834.50 365.50M807.50 402.50L844.50 365.50M816.50 402.50L853.50 365.50M826.50 402.50L863.50 365.50M835.50 402.50L872.50 365.50M701.50 365.50L738.50 402.50M711.50 365.50L748.50 402.50M720.50 365.50L757.50 402.50M730.50 365.50L767.50 402.50M739.50 365.50L776.50 402.50M749.50 365.50L786.50 402.50M759.50 365.50L796.50 402.50M768.50 365.50L805.50 402.50M778.50 365.50L815.50 402.50M787.50 365.50L824.50 402.50M797.50 365.50L834.50 402.50M807.50 365.50L844.50 402.50M816.50 365.50L853.50 402.50M826.50 365.50L863.50 402.50M835.50 365.50L872.50 402.50" class="h" stroke-width="1.1"/>
<rect class="ro" stroke-width="1.0" x="732.50" y="367.50" width="105.00" height="33.00" rx="6.5" ry="6.5"/>
<path clip-path="url(#c31)" d="M699.00 443.00L736.00 406.00M709.00 443.00L746.00 406.00M719.00 443.00L756.00 406.00M728.00 443.00L765.00 406.00M738.00 443.00L775.00 406.00M747.00 443.00L784.00 406.00M757.00 443.00L794.00 406.00M767.00 443.00L804.00 406.00M776.00 443.00L813.00 406.00M786.00 443.00L823.00 406.00M795.00 443.00L832.00 406.00M805.00 443.00L842.00 406.00M815.00 443.00L852.00 406.00M824.00 443.00L861.00 406.00M834.00 443.00L871.00 406.00M704.00 406.00L741.00 443.00M713.00 406.00L750.00 443.00M723.00 406.00L760.00 443.00M732.00 406.00L769.00 443.00M742.00 406.00L779.00 443.00M752.00 406.00L789.00 443.00M761.00 406.00L798.00 443.00M771.00 406.00L808.00 443.00M780.00 406.00L817.00 443.00M790.00 406.00L827.00 443.00M800.00 406.00L837.00 443.00M809.00 406.00L846.00 443.00M819.00 406.00L856.00 443.00M828.00 406.00L865.00 443.00M838.00 406.00L875.00 443.00" class="h" stroke-width="1.1"/>
<rect class="ro" stroke-width="1.0" x="732.50" y="408.00" width="105.00" height="33.00" rx="6.5" ry="6.5"/>
</g>
<g id="jetty">
<path clip-path="url(#c32)" d="M312.00 742.00L380.00 674.00M321.00 742.00L389.00 674.00M331.00 742.00L399.00 674.00M340.00 742.00L408.00 674.00M350.00 742.00L418.00 674.00M360.00 742.00L428.00 674.00M369.00 742.00L437.00 674.00M379.00 742.00L447.00 674.00M388.00 742.00L456.00 674.00M398.00 742.00L466.00 674.00M408.00 742.00L476.00 674.00M417.00 742.00L485.00 674.00M427.00 742.00L495.00 674.00M436.00 742.00L504.00 674.00M446.00 742.00L514.00 674.00" class="h" stroke-width="1.1"/>
<rect class="ro" stroke-width="1.0" x="371.50" y="675.50" width="81.00" height="65.00" rx="6.5" ry="6.5"/>
<path class="kc" d="M397.5 583V696M401.5 586V696M405.5 583V717M411.5 586V717"/>
<path class="kc2" d="M396.3 605.5H398.7M400.3 605.5H402.7M404.3 605.5H406.7M410.3 605.5H412.7"/>
<path class="kc2" d="M396.3 633H398.7M400.3 633H402.7M404.3 633H406.7M410.3 633H412.7"/>
<path class="kc2" d="M396.3 643H398.7M400.3 643H402.7M404.3 643H406.7M410.3 643H412.7"/>
<path class="kc2" d="M396.3 647H398.7M400.3 647H402.7M404.3 647H406.7M410.3 647H412.7"/>
<path class="kc" d="M384 579.5H401.5V586"/>
<path class="kc2" d="M413 583.5H417M413.5 586.5H417.5M396.5 587.5H398.5M400.5 587.5H402.5M404.5 587.5H406.5"/>
<rect class="kc" x="381.50" y="657.50" width="6.00" height="30.50"/>
<rect class="kc" x="378.50" y="683.50" width="68.00" height="51.00"/>
<path class="kc" d="M381.5 686.5H444.5V700.5H437.5V717.5H444.5V732.5H381.5Z"/>
<path class="kc2" d="M379 733.5H446"/>
<rect class="kc" x="441.50" y="704.50" width="15.00" height="10.00"/>
<path class="kc" d="M439.5 702.5V716"/>
<rect class="kc" x="387.50" y="690.00" width="35.00" height="3.50"/>
<path class="g" d="M388 692.5H422"/>
<rect class="kc" x="399.50" y="717.50" width="9.00" height="9.00"/>
<rect class="kc" x="416.50" y="717.50" width="9.00" height="9.00"/>
<path class="kc" d="M405.5 693V717M411.5 693V717M421.5 690V717M429 690V717M422.5 690H429M430 684.5V687M434 684.5V687M438 684.5V687M430 684.5H446"/>
<path class="kc2" d="M404.3 699H406.7M404.3 703H406.7M404.3 707H406.7M404.3 711H406.7M404.3 714H406.7"/>
<path class="kc2" d="M410.3 699H412.7M410.3 703H412.7M410.3 707H412.7M410.3 711H412.7M410.3 714H412.7"/>
<path class="kc2" d="M420.3 699H422.7M420.3 703H422.7M420.3 707H422.7M420.3 711H422.7M420.3 714H422.7"/>
<path class="kc2" d="M427.8 699H430.2M427.8 703H430.2M427.8 707H430.2M427.8 711H430.2M427.8 714H430.2"/>
<path class="kc2" d="M397 695.5H399M401 695.5H403"/>
<rect class="kc" x="442.50" y="604.50" width="24.00" height="13.00"/>
<rect class="kc" x="444.00" y="606.00" width="21.00" height="10.00"/>
<path class="kc" d="M454.5 604.5V617.5"/>
<rect class="kc" x="474.50" y="604.50" width="18.00" height="13.00"/>
<rect class="kc" x="476.00" y="606.00" width="15.00" height="10.00"/>
<rect class="kc" x="486.50" y="575.50" width="24.00" height="12.00"/>
<rect class="kc" x="488.00" y="577.00" width="21.00" height="9.00"/>
<path class="kc" d="M498.5 575.5V587.5"/>
</g>
<g id="section">
<path clip-path="url(#c33)" d="M913.00 613.00L1058.00 468.00M922.00 613.00L1067.00 468.00M932.00 613.00L1077.00 468.00M941.00 613.00L1086.00 468.00M951.00 613.00L1096.00 468.00M961.00 613.00L1106.00 468.00M970.00 613.00L1115.00 468.00M980.00 613.00L1125.00 468.00M989.00 613.00L1134.00 468.00M999.00 613.00L1144.00 468.00M1009.00 613.00L1154.00 468.00M1018.00 613.00L1163.00 468.00M1028.00 613.00L1173.00 468.00M1037.00 613.00L1182.00 468.00M1047.00 613.00L1192.00 468.00M1057.00 613.00L1202.00 468.00M1066.00 613.00L1211.00 468.00M1076.00 613.00L1221.00 468.00M1085.00 613.00L1230.00 468.00M1095.00 613.00L1240.00 468.00M1105.00 613.00L1250.00 468.00M1114.00 613.00L1259.00 468.00M1124.00 613.00L1269.00 468.00M1133.00 613.00L1278.00 468.00M1143.00 613.00L1288.00 468.00M1153.00 613.00L1298.00 468.00M1162.00 613.00L1307.00 468.00M1172.00 613.00L1317.00 468.00M1181.00 613.00L1326.00 468.00M1191.00 613.00L1336.00 468.00M1201.00 613.00L1346.00 468.00M1210.00 613.00L1355.00 468.00M1220.00 613.00L1365.00 468.00M1229.00 613.00L1374.00 468.00M1239.00 613.00L1384.00 468.00M1249.00 613.00L1394.00 468.00M1258.00 613.00L1403.00 468.00M1268.00 613.00L1413.00 468.00M1277.00 613.00L1422.00 468.00M1287.00 613.00L1432.00 468.00M1297.00 613.00L1442.00 468.00M1306.00 613.00L1451.00 468.00M1316.00 613.00L1461.00 468.00M1325.00 613.00L1470.00 468.00" class="h" stroke-width="1.1"/>
<polygon class="ro" stroke-width="1.0" points="1053.50,584.50 1080.50,584.50 1080.50,489.30 1191.30,469.30 1302.50,489.30 1302.50,584.50 1329.50,584.50 1329.50,611.50 1275.50,611.50 1275.50,511.20 1191.30,497.30 1107.50,511.20 1107.50,611.50 1053.50,611.50"/>
<path clip-path="url(#c34)" d="M1110.50 496.00V541.00M1117.24 496.00V541.00M1123.98 496.00V541.00M1130.72 496.00V541.00M1137.46 496.00V541.00M1144.20 496.00V541.00M1150.94 496.00V541.00M1157.68 496.00V541.00M1164.42 496.00V541.00M1171.16 496.00V541.00M1177.90 496.00V541.00M1184.64 496.00V541.00M1191.38 496.00V541.00M1198.12 496.00V541.00M1204.86 496.00V541.00M1211.60 496.00V541.00M1218.34 496.00V541.00M1225.08 496.00V541.00M1231.82 496.00V541.00M1238.56 496.00V541.00M1245.30 496.00V541.00M1252.04 496.00V541.00M1258.78 496.00V541.00M1265.52 496.00V541.00M1272.26 496.00V541.00M1106.00 498.96H1277.00M1106.00 505.83H1277.00M1106.00 512.70H1277.00M1106.00 519.57H1277.00M1106.00 526.44H1277.00M1106.00 533.31H1277.00" class="h" stroke-width="1.1"/>
<path class="ro" d="M1107.5 511.2V539.5M1275.5 511.2V539.5"/>
<path clip-path="url(#c35)" d="M1064.30 496.30L1094.30 526.30M1076.30 496.30L1106.30 526.30M1088.30 496.30L1118.30 526.30M1100.30 496.30L1130.30 526.30M1111.30 496.30L1141.30 526.30M1069.70 526.30L1099.70 496.30M1081.70 526.30L1111.70 496.30M1093.70 526.30L1123.70 496.30M1105.70 526.30L1135.70 496.30M1116.70 526.30L1146.70 496.30" class="h" stroke-width="1.1"/>
<circle class="ro" stroke-width="1.0" cx="1107.60" cy="511.30" r="12.60"/>
<path clip-path="url(#c36)" d="M1232.30 496.30L1262.30 526.30M1244.30 496.30L1274.30 526.30M1256.30 496.30L1286.30 526.30M1267.30 496.30L1297.30 526.30M1279.30 496.30L1309.30 526.30M1237.70 526.30L1267.70 496.30M1249.70 526.30L1279.70 496.30M1261.70 526.30L1291.70 496.30M1273.70 526.30L1303.70 496.30M1284.70 526.30L1314.70 496.30" class="h" stroke-width="1.1"/>
<circle class="ro" stroke-width="1.0" cx="1275.50" cy="511.30" r="12.60"/>
<path clip-path="url(#c37)" d="M1143.00 483.00L1187.00 527.00M1153.00 483.00L1197.00 527.00M1163.00 483.00L1207.00 527.00M1172.00 483.00L1216.00 527.00M1182.00 483.00L1226.00 527.00M1191.00 483.00L1235.00 527.00M1201.00 483.00L1245.00 527.00M1142.00 527.00L1186.00 483.00M1152.00 527.00L1196.00 483.00M1162.00 527.00L1206.00 483.00M1171.00 527.00L1215.00 483.00M1181.00 527.00L1225.00 483.00M1190.00 527.00L1234.00 483.00M1200.00 527.00L1244.00 483.00" class="h" stroke-width="1.1"/>
<rect class="ro" stroke-width="1.0" x="1178.40" y="484.20" width="26.00" height="41.20" rx="13" ry="13"/>
<circle class="ro" cx="1191.3" cy="497.3" r="13"/>
<circle class="ro" cx="1191.3" cy="512.3" r="13"/>
<path clip-path="url(#c38)" d="M1047.50 610.50L1062.50 625.50M1054.50 610.50L1069.50 625.50M1061.50 610.50L1076.50 625.50M1068.50 610.50L1083.50 625.50M1075.50 610.50L1090.50 625.50M1082.50 610.50L1097.50 625.50M1048.50 625.50L1063.50 610.50M1055.50 625.50L1070.50 610.50M1062.50 625.50L1077.50 610.50M1069.50 625.50L1084.50 610.50M1076.50 625.50L1091.50 610.50M1083.50 625.50L1098.50 610.50" class="h" stroke-width="1.1"/>
<path class="ro" stroke-width="1.0" d="M1061.2 611.5A12.2 12.2 0 0 0 1085.6 611.5Z"/>
<path d="M1116.80 502.30L1122.10 497.00" stroke="#f00" stroke-width="1.1" fill="none"/>
<path d="M1116.80 502.30L1118.99 497.99L1121.11 500.11Z" fill="#f00"/>
<text class="rr" transform="translate(1123.80 498.69) rotate(-45)" textLength="17.50" lengthAdjust="spacingAndGlyphs">R1.5m</text>
<path d="M1200.80 488.20L1206.10 482.90" stroke="#f00" stroke-width="1.1" fill="none"/>
<path d="M1200.80 488.20L1202.99 483.89L1205.11 486.01Z" fill="#f00"/>
<text class="rr" transform="translate(1207.80 484.59) rotate(-45)" textLength="17.50" lengthAdjust="spacingAndGlyphs">R1.5m</text>
<path d="M1203.00 500.20L1204.77 498.43" stroke="#f00" stroke-width="1.1" fill="none"/>
<text class="rr" transform="translate(1206.46 500.13) rotate(-45)" textLength="17.50" lengthAdjust="spacingAndGlyphs">R1.5m</text>
<path d="M1284.60 502.30L1289.90 497.00" stroke="#f00" stroke-width="1.1" fill="none"/>
<path d="M1284.60 502.30L1286.79 497.99L1288.91 500.11Z" fill="#f00"/>
<text class="rr" transform="translate(1291.60 498.69) rotate(-45)" textLength="17.50" lengthAdjust="spacingAndGlyphs">R1.5m</text>
<rect class="w" x="1153.30" y="522.60" width="22.90" height="16.00"/>
<path class="kc" d="M999 611.5H1053M1108 611.5H1275M1330 611.5H1384"/>
<path class="kc" d="M1107.5 539.5H1275.5"/>
<path class="k" d="M1107.5 511.2L1191.3 497.3L1275.5 511.2" style="stroke-opacity:.55"/>
<path class="kc" d="M1134.3 544.5H1248.5M1161.3 550.5H1221M1176.3 555.5H1206.8"/>
<path class="kc" d="M1053.5 584.5H1048.5V611.5M1329.5 584.5H1335.5V611.5"/>
<path class="kc" d="M1080.5 489.3V413M1107.5 511V413M1275.5 511V413M1302.5 489V413"/>
<path class="kc" d="M1080.5 413.5H1086M1102 413.5H1107.5M1275.5 413.5H1281M1297 413.5H1302.5"/>
<path class="k" d="M1140.3 532.3H1148.9L1144.6 539Z"/>
<path class="k" d="M1346 604.7H1354.7L1350.3 611Z"/>
<path class="k" d="M1346 459.5H1308.6L1275.5 493"/>
<path class="f" d="M1275 493.5L1281.5 490L1278.3 487Z"/>
<path class="k" d="M1400 549.5H1369L1335.5 584.4"/>
<path class="f" d="M1335.5 584.4L1342 581.2L1338.8 578Z"/>
<path class="k" d="M957.4 658.5H1054L1073.4 623.6"/>
<path class="f" d="M1073.4 623.6L1072.7 630.6L1068.8 628.4Z"/>
<path class="kc" d="M1107.3 694.5H1276"/>
</g>
<g id="legend">
<path clip-path="url(#c39)" d="M1265.50 19.00V44.00M1277.65 19.00V44.00M1289.80 19.00V44.00M1301.95 19.00V44.00M1254.00 33.50H1304.00" class="h" stroke-width="1.1"/>
<path class="ro" stroke-width="1.0" d="M1255.5 20.5H1291.6A11.0 11.0 0 0 1 1291.6 42.5H1255.5Z"/>
<path clip-path="url(#c40)" d="M1241.00 61.00L1265.00 85.00M1257.00 61.00L1281.00 85.00M1274.00 61.00L1298.00 85.00M1290.00 61.00L1314.00 85.00M1241.00 85.00L1265.00 61.00M1257.00 85.00L1281.00 61.00M1273.00 85.00L1297.00 61.00M1290.00 85.00L1314.00 61.00" class="h" stroke-width="1.1"/>
<path class="ro" stroke-width="1.0" d="M1255.5 62.5H1292.1A10.5 10.5 0 0 1 1292.1 83.5H1255.5Z"/>
<path clip-path="url(#c41)" d="M1241.00 128.00L1266.00 103.00M1253.00 128.00L1278.00 103.00M1264.00 128.00L1289.00 103.00M1276.00 128.00L1301.00 103.00M1288.00 128.00L1313.00 103.00M1300.00 128.00L1325.00 103.00" class="h" stroke-width="1.1"/>
<path class="ro" stroke-width="1.0" d="M1255.5 104.5H1291.6A11.0 11.0 0 0 1 1291.6 126.5H1255.5Z"/>
</g>
<g id="labels">
<rect class="w" x="327.30" y="244.60" width="61.70" height="21.60"/>
<path class="k" d="M377 255.5H326.5L318 268"/>
<text class="lab" x="328.50" y="252.30" textLength="56.50" lengthAdjust="spacingAndGlyphs">No. 1 Diesel Oil</text>
<text class="lab2" x="329.10" y="263.90" textLength="46.00" lengthAdjust="spacing">(2170KL)</text>
<rect class="w" x="372.00" y="425.60" width="52.90" height="20.60"/>
<path class="k" d="M423.3 436.5H371.5L364.4 463.7"/>
<text class="lab" x="373.50" y="433.30" textLength="50.00" lengthAdjust="spacingAndGlyphs">No. 2 Kerosene</text>
<text class="lab2" x="374.10" y="444.90" textLength="46.00" lengthAdjust="spacing">(1250KL)</text>
<rect class="w" x="581.50" y="279.50" width="52.50" height="21.50"/>
<path class="k" d="M633.5 290.5H580.5L574.5 300.5"/>
<text class="lab" x="582.50" y="287.30" textLength="50.00" lengthAdjust="spacingAndGlyphs">No. 3 Gasoline</text>
<text class="lab2" x="583.10" y="298.90" textLength="46.00" lengthAdjust="spacing">(1250KL)</text>
<rect class="w" x="589.00" y="427.40" width="53.00" height="20.80"/>
<path class="k" d="M641.7 438.5H588.5L576.7 458.9"/>
<text class="lab" x="590.50" y="435.30" textLength="46.50" lengthAdjust="spacingAndGlyphs">No. 4 Gasoline</text>
<text class="lab2" x="591.10" y="446.90" textLength="46.00" lengthAdjust="spacing">(1650KL)</text>
<path class="kc" d="M624.5 427V435.3"/>
<rect class="w" x="326.00" y="355.00" width="37.50" height="11.50"/>
<text class="lab" x="328.00" y="364.30" textLength="34.00" lengthAdjust="spacingAndGlyphs">Diked area</text>
<text class="cad" x="526.90" y="164.90" textLength="51.40" lengthAdjust="spacingAndGlyphs">Pump Station</text>
<text class="cad" x="626.00" y="219.60" textLength="56.00" lengthAdjust="spacingAndGlyphs">Land transport</text>
<text class="cad" x="749.90" y="463.80" textLength="78.70" lengthAdjust="spacingAndGlyphs">Truck loading facility</text>
<text class="cad" x="321.70" y="618.00" textLength="71.70" lengthAdjust="spacingAndGlyphs">Loading/Unloading</text>
<text class="cad" x="393.30" y="752.90" textLength="38.00" lengthAdjust="spacingAndGlyphs">Jetty area</text>
<text class="tiny" x="575.20" y="195.00" textLength="50.40" lengthAdjust="spacingAndGlyphs">Oil-water separator</text>
<text class="tiny" x="446.00" y="625.00" textLength="48.80" lengthAdjust="spacingAndGlyphs">Oil-water separator</text>
<text class="tiny" x="476.50" y="572.40" textLength="49.50" lengthAdjust="spacingAndGlyphs">Oil-water separator</text>
<text class="tiny" x="424.30" y="674.80" textLength="50.30" lengthAdjust="spacingAndGlyphs">Oil-water separator</text>
<text class="tiny" x="843.20" y="241.00" textLength="18.30" lengthAdjust="spacingAndGlyphs">NO. 1</text>
<text class="tiny" x="843.20" y="321.60" textLength="18.30" lengthAdjust="spacingAndGlyphs">NO. 2</text>
<text class="tiny" x="841.50" y="402.60" textLength="18.80" lengthAdjust="spacingAndGlyphs">NO. 3</text>
<path d="M323.10 293.20L338.11 280.60" stroke="#000" stroke-width="1" fill="none"/>
<path d="M331.53 286.13L334.18 281.82L336.23 284.27Z" fill="#000"/>
<text class="rt" transform="translate(340.04 282.12) rotate(-40)" textLength="17.80" lengthAdjust="spacingAndGlyphs">R1.5m</text>
<path d="M366.20 479.30L381.21 466.70" stroke="#000" stroke-width="1" fill="none"/>
<path d="M374.63 472.23L377.28 467.92L379.33 470.37Z" fill="#000"/>
<text class="rt" transform="translate(383.14 468.22) rotate(-40)" textLength="17.80" lengthAdjust="spacingAndGlyphs">R1.5m</text>
<path d="M541.60 337.20L556.61 324.60" stroke="#000" stroke-width="1" fill="none"/>
<path d="M550.03 330.13L552.68 325.82L554.73 328.27Z" fill="#000"/>
<text class="rt" transform="translate(558.54 326.12) rotate(-40)" textLength="17.80" lengthAdjust="spacingAndGlyphs">R1.5m</text>
<path d="M541.60 385.90L556.61 373.30" stroke="#000" stroke-width="1" fill="none"/>
<path d="M550.03 378.83L552.68 374.52L554.73 376.97Z" fill="#000"/>
<text class="rt" transform="translate(558.54 374.82) rotate(-40)" textLength="17.80" lengthAdjust="spacingAndGlyphs">R1.5m</text>
<path d="M527.50 488.60L542.51 476.00" stroke="#000" stroke-width="1" fill="none"/>
<path d="M535.93 481.53L538.58 477.22L540.63 479.67Z" fill="#000"/>
<text class="rt" transform="translate(544.44 477.52) rotate(-40)" textLength="17.80" lengthAdjust="spacingAndGlyphs">R1.5m</text>
<path d="M555.80 439.70L570.81 427.10" stroke="#000" stroke-width="1" fill="none"/>
<path d="M564.23 432.63L566.88 428.32L568.93 430.77Z" fill="#000"/>
<text class="rt" transform="translate(572.74 428.62) rotate(-40)" textLength="17.80" lengthAdjust="spacingAndGlyphs">R1.5m</text>
<text class="rt" transform="translate(505.80 370.80) rotate(-45)" textLength="9.00" lengthAdjust="spacingAndGlyphs">RR</text>
<text class="rr" transform="translate(718.80 477.20) rotate(-45)" textLength="17.50" lengthAdjust="spacingAndGlyphs">R5.0m</text>
<path d="M730.5 463L738.5 455" stroke="#f00" stroke-width="1.1" fill="none"/>
<path d="M739.5 454L735.1 456.2L737.3 458.4Z" fill="#f00"/>
<text class="dim" x="1094.05" y="415.80" textLength="15.00" lengthAdjust="spacingAndGlyphs" text-anchor="middle">3.0m</text>
<text class="dim" x="1288.95" y="415.80" textLength="15.00" lengthAdjust="spacingAndGlyphs" text-anchor="middle">3.0m</text>
<text class="mono" x="1311.10" y="457.40" font-size="16.5" textLength="35.00" lengthAdjust="spacingAndGlyphs" fill="#000">R1.5m</text>
<text class="mono" x="1372.60" y="547.80" font-size="15.5" textLength="27.20" lengthAdjust="spacingAndGlyphs" fill="#000">Dike</text>
<text class="mono" x="957.40" y="656.80" font-size="15.5" textLength="92.20" lengthAdjust="spacingAndGlyphs" fill="#000">Pit、Sump etc.</text>
<text class="mono" x="1126.70" y="692.10" font-size="21.5" textLength="129.50" lengthAdjust="spacingAndGlyphs" fill="#000">Cone roof tank</text>
<text class="zone2" x="1154.30" y="535.80" textLength="19.60" lengthAdjust="spacingAndGlyphs">LL</text>
<text class="zone2" x="1357.50" y="609.70" textLength="19.40" lengthAdjust="spacingAndGlyphs">GL</text>
<text class="zone" transform="translate(1319.5 39.9) scale(0.95 1)" x="-1.16 7.89 14.53 31.37 48.53 64.95 76.32 83.26" y="0"><tspan class="colon">:</tspan> Zone 0</text>
<text class="zone" transform="translate(1319.5 81.4) scale(0.95 1)" x="-1.16 7.89 14.53 31.37 48.53 64.95 76.32 83.79" y="0"><tspan class="colon">:</tspan> Zone 1</text>
<text class="zone" transform="translate(1319.5 122.1) scale(0.95 1)" x="-1.16 7.89 14.53 31.37 48.53 64.95 76.32 83.26" y="0"><tspan class="colon">:</tspan> Zone 2</text>
</g></svg>
</body>
</html>
